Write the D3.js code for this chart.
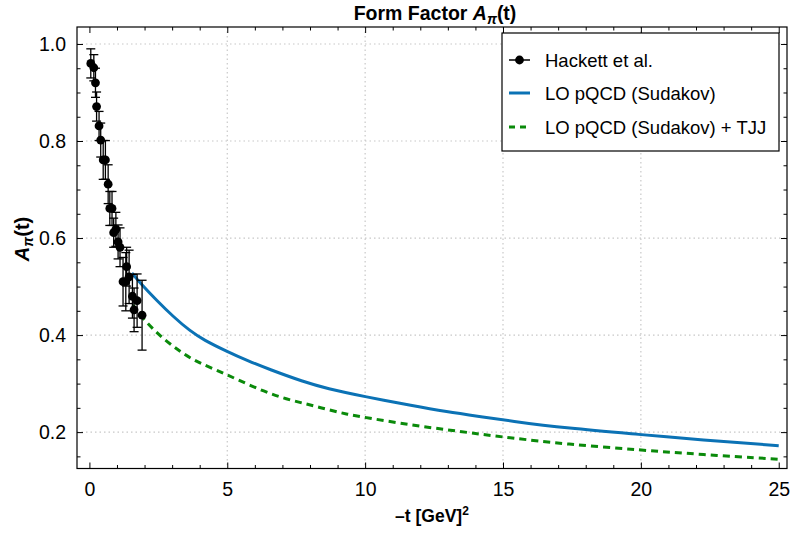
<!DOCTYPE html>
<html>
<head>
<meta charset="utf-8">
<script src="https://cdn.jsdelivr.net/npm/d3@7"></script>
<style>
  body { margin: 0; background: #fff; }
  text { font-family: "Liberation Sans", Arial, sans-serif; }
</style>
</head>
<body>
<div id="chart"></div>
<script>
// Hackett et al. lattice data: -t, A_pi, error
var dataT   = [0.05, 0.16, 0.22, 0.26, 0.35, 0.41, 0.50, 0.58, 0.68, 0.74, 0.82, 0.96, 0.88, 1.04, 1.11, 1.35, 1.44, 1.22, 1.32, 1.56, 1.73, 1.62, 1.91];
var dataA   = [0.960, 0.951, 0.920, 0.871, 0.831, 0.802, 0.761, 0.761, 0.711, 0.661, 0.661, 0.618, 0.611, 0.592, 0.581, 0.541, 0.520, 0.510, 0.510, 0.480, 0.471, 0.452, 0.441];
var dataErr = [0.030, 0.027, 0.030, 0.030, 0.030, 0.035, 0.040, 0.040, 0.040, 0.035, 0.035, 0.035, 0.030, 0.035, 0.040, 0.040, 0.055, 0.050, 0.060, 0.045, 0.055, 0.045, 0.072];

// LO pQCD (Sudakov)
var sudT = [1.54, 1.83, 2.43, 3.04, 3.64, 4.14, 5, 5.7, 6.54, 7.75, 8.6, 10, 11.74, 12.95, 14.16, 15.25, 17.32, 20, 22.16, 25];
var sudA = [0.528, 0.508, 0.472, 0.438, 0.409, 0.390, 0.366, 0.348, 0.329, 0.304, 0.290, 0.273, 0.254, 0.242, 0.232, 0.223, 0.208, 0.195, 0.184, 0.172];

// LO pQCD (Sudakov) + TJJ
var tjjT = [1.57, 2.07, 2.67, 3.28, 3.88, 4.61, 5.34, 6.36, 7.15, 7.87, 8.6, 9.33, 10, 11.74, 12.95, 14.16, 15.13, 17.32, 20, 22.16, 25];
var tjjA = [0.462, 0.425, 0.393, 0.366, 0.345, 0.328, 0.309, 0.283, 0.268, 0.258, 0.247, 0.237, 0.230, 0.214, 0.205, 0.196, 0.189, 0.175, 0.163, 0.154, 0.144];

var xTicks = [0, 5, 10, 15, 20, 25];
var yTicks = [0.2, 0.4, 0.6, 0.8, 1.0];
var xGrid = [5, 10, 15, 20];
var legendLabels = ["Hackett et al.", "LO pQCD (Sudakov)", "LO pQCD (Sudakov) + TJJ"];

var blue = "#0b72b5", green = "#0a8a0a";

var W = 793, H = 537;
var plotL = 77, plotR = 787, plotT = 27, plotB = 468.5;

var svg = d3.select("#chart").append("svg")
    .attr("width", W).attr("height", H);

var x = d3.scaleLinear().domain([-0.45, 25.3]).range([plotL, plotR]);
var y = d3.scaleLinear().domain([0.125, 1.035]).range([plotB, plotT]);

// grid lines
svg.append("g").selectAll("line")
    .data(xGrid).enter().append("line")
    .attr("x1", d => x(d)).attr("x2", d => x(d))
    .attr("y1", plotT).attr("y2", plotB)
    .attr("stroke", "#c8c8c8").attr("stroke-width", 1.2)
    .attr("stroke-dasharray", "1.5,3");
svg.append("g").selectAll("line")
    .data(yTicks).enter().append("line")
    .attr("x1", plotL).attr("x2", plotR)
    .attr("y1", d => y(d)).attr("y2", d => y(d))
    .attr("stroke", "#c8c8c8").attr("stroke-width", 1.2)
    .attr("stroke-dasharray", "1.5,3");

// axes with inward ticks on all sides
var xMinor = d3.range(0, 26, 1).filter(d => xTicks.indexOf(d) < 0);
var yMinor = d3.range(0.15, 1.03, 0.05).map(d => +d.toFixed(2)).filter(d => yTicks.indexOf(d) < 0);

function drawAxis(axis, pos) {
    var g = svg.append("g").attr("transform", pos).call(axis);
    g.select(".domain").remove();
    g.selectAll("line").attr("stroke", "#000");
    g.selectAll("text").attr("font-size", "19.5px")
        .attr("font-family", "Liberation Sans, Arial, sans-serif").attr("fill", "#000");
    return g;
}
drawAxis(d3.axisBottom(x).tickValues(xTicks).tickSizeInner(-6).tickPadding(14).tickSizeOuter(0).tickFormat(d3.format("d")),
    "translate(0," + plotB + ")");
drawAxis(d3.axisBottom(x).tickValues(xMinor).tickSize(-3.5).tickFormat(""), "translate(0," + plotB + ")");
drawAxis(d3.axisTop(x).tickValues(xTicks).tickSize(-6).tickFormat(""), "translate(0," + plotT + ")");
drawAxis(d3.axisTop(x).tickValues(xMinor).tickSize(-3.5).tickFormat(""), "translate(0," + plotT + ")");
drawAxis(d3.axisLeft(y).tickValues(yTicks).tickSizeInner(-6).tickPadding(11).tickSizeOuter(0).tickFormat(d3.format(".1f")),
    "translate(" + plotL + ",0)");
drawAxis(d3.axisLeft(y).tickValues(yMinor).tickSize(-3.5).tickFormat(""), "translate(" + plotL + ",0)");
drawAxis(d3.axisRight(y).tickValues(yTicks).tickSize(-6).tickFormat(""), "translate(" + plotR + ",0)");
drawAxis(d3.axisRight(y).tickValues(yMinor).tickSize(-3.5).tickFormat(""), "translate(" + plotR + ",0)");

// frame
svg.append("rect")
    .attr("x", plotL).attr("y", plotT)
    .attr("width", plotR - plotL).attr("height", plotB - plotT)
    .attr("fill", "none").attr("stroke", "#000").attr("stroke-width", 1.2);

// curves
var line = d3.line().x(d => x(d[0])).y(d => y(d[1])).curve(d3.curveBasis);
svg.append("path")
    .datum(d3.zip(sudT, sudA))
    .attr("d", line)
    .attr("fill", "none").attr("stroke", blue).attr("stroke-width", 3);
svg.append("path")
    .datum(d3.zip(tjjT, tjjA))
    .attr("d", line)
    .attr("fill", "none").attr("stroke", green).attr("stroke-width", 3)
    .attr("stroke-dasharray", "7,5");

// data points with error bars
var pts = d3.zip(dataT, dataA, dataErr);
var eb = svg.append("g").attr("stroke", "#000").attr("stroke-width", 1.3);
pts.forEach(function(p) {
    var cx = x(p[0]), y0 = y(p[1] - p[2]), y1 = y(p[1] + p[2]);
    eb.append("line").attr("x1", cx).attr("x2", cx).attr("y1", y0).attr("y2", y1);
    eb.append("line").attr("x1", cx - 4.5).attr("x2", cx + 4.5).attr("y1", y0).attr("y2", y0);
    eb.append("line").attr("x1", cx - 4.5).attr("x2", cx + 4.5).attr("y1", y1).attr("y2", y1);
});
svg.append("g").selectAll("circle")
    .data(pts).enter().append("circle")
    .attr("cx", d => x(d[0])).attr("cy", d => y(d[1]))
    .attr("r", 4.4).attr("fill", "#000");

// title
var title = svg.append("text")
    .attr("x", (plotL + plotR) / 2 + 3).attr("y", 20)
    .attr("text-anchor", "middle").attr("font-size", "19.5px").attr("font-weight", "bold");
title.append("tspan").text("Form Factor ");
title.append("tspan").attr("font-style", "italic").text("A");
title.append("tspan").attr("font-style", "italic").attr("font-size", "14px").attr("dy", 4).text("π");
title.append("tspan").attr("dy", -4).text("(t)");

// axis labels
var xl = svg.append("text")
    .attr("x", (plotL + plotR) / 2).attr("y", 522)
    .attr("text-anchor", "middle").attr("font-size", "17.5px").attr("font-weight", "bold");
xl.append("tspan").text("\u2013t [GeV]");
xl.append("tspan").attr("font-size", "12px").attr("dy", -7).text("2");

var yl = svg.append("text")
    .attr("transform", "translate(29,239) rotate(-90)")
    .attr("text-anchor", "middle").attr("font-size", "20px").attr("font-weight", "bold");
yl.append("tspan").attr("font-style", "italic").text("A");
yl.append("tspan").attr("font-style", "italic").attr("font-size", "14px").attr("dy", 4).text("π");
yl.append("tspan").attr("dy", -4).text("(t)");

// legend
var lg = svg.append("g");
lg.append("rect")
    .attr("x", 502).attr("y", 33).attr("width", 277).attr("height", 118)
    .attr("fill", "#fff").attr("stroke", "#000").attr("stroke-width", 1.2);
var rowY = [60, 93, 127];
lg.append("line").attr("x1", 509).attr("x2", 530).attr("y1", rowY[0]).attr("y2", rowY[0])
    .attr("stroke", "#000").attr("stroke-width", 1.5);
lg.append("circle").attr("cx", 519.5).attr("cy", rowY[0]).attr("r", 4.4).attr("fill", "#000");
lg.append("line").attr("x1", 509).attr("x2", 530).attr("y1", rowY[1]).attr("y2", rowY[1])
    .attr("stroke", blue).attr("stroke-width", 3);
lg.append("line").attr("x1", 509).attr("x2", 530).attr("y1", rowY[2]).attr("y2", rowY[2])
    .attr("stroke", green).attr("stroke-width", 3).attr("stroke-dasharray", "6,5");
lg.selectAll("text")
    .data(legendLabels).enter().append("text")
    .attr("x", 545).attr("y", (d, i) => rowY[i] + 6.5)
    .attr("font-size", "18.5px").attr("fill", "#000")
    .text(d => d);
</script>
</body>
</html>
